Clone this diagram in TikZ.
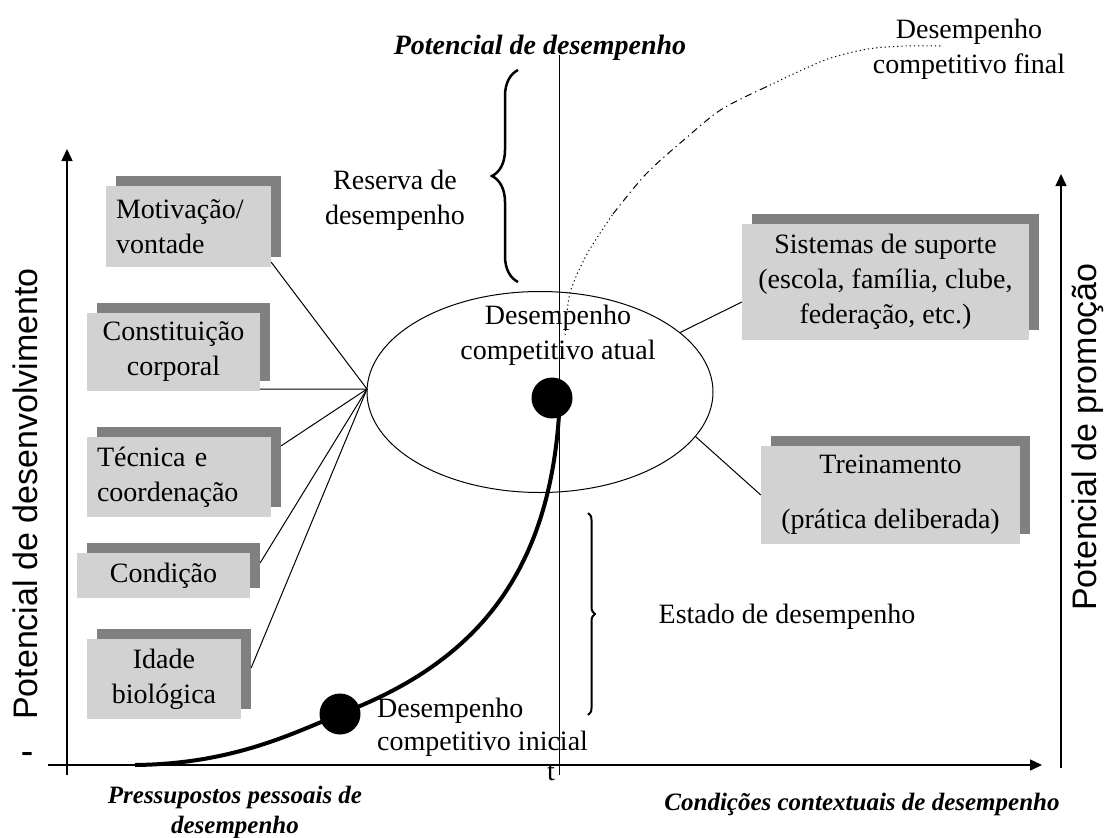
\documentclass[tikz,border=0pt]{standalone}
\usepackage{fontspec}
\setmainfont{Liberation Serif}
\newfontfamily\sansf{Liberation Sans}
\usetikzlibrary{shadows,calc,decorations.pathreplacing,arrows.meta,shapes.geometric}
\definecolor{boxfill}{RGB}{210,210,210}
\definecolor{shadowgray}{RGB}{128,128,128}
\begin{document}
\begin{tikzpicture}[x=1pt,y=-1pt,
  box/.style={fill=boxfill, draw=none, inner sep=0pt,
    general shadow={fill=shadowgray, shadow xshift=10pt, shadow yshift=10pt},
    font=\fontsize{28}{35}\selectfont},
  txt/.style={inner sep=0pt, font=\fontsize{28}{35}\selectfont},
  bi/.style={inner sep=0pt, font=\fontsize{28}{30}\selectfont\bfseries\itshape},
  bis/.style={inner sep=0pt, font=\fontsize{25}{30}\selectfont\bfseries\itshape},
  side/.style={inner sep=0pt, rotate=90, font=\fontsize{34}{36}\selectfont\sansf},
  conn/.style={line width=1pt},
  axis/.style={line width=1.5pt, -{Triangle[length=12pt,width=11pt]}},
  dot/.style={circle, fill=black, inner sep=0pt, minimum size=41pt},
  bracelinea/.style={decorate, decoration={brace, amplitude=26pt}, line width=2.5pt},
  braceline/.style={decorate, decoration={brace, amplitude=7pt}, line width=2pt},
  dotcurve/.style={line width=1pt, dash pattern=on 1.2pt off 3pt},
  dashdotcurve/.style={line width=1pt, dash pattern=on 7pt off 4pt on 1.2pt off 4pt}
]
\useasboundingbox (0,0) rectangle (1109,838);

% boxes
\node[box, minimum width=165, minimum height=81, text width=145, align=left] (mot) at (188.5,226.5) {Motivação/\\vontade};
\node[box, minimum width=173, minimum height=78, align=center] (con) at (173.5,352) {Constituição\\corporal};
\node[box, minimum width=184, minimum height=80, text width=164, align=left] (tec) at (179,477) {Técnica e\\coordenação};
\node[box, minimum width=173, minimum height=45] (cond) at (163.5,575.5) {Condição};
\node[box, minimum width=154, minimum height=80, align=center] (ida) at (164,679) {Idade\\biológica};
\node[box, minimum width=287, minimum height=116, align=center] (sis) at (885.5,282) {Sistemas de suporte\\(escola, família, clube,\\federação, etc.)};
\node[box, minimum width=259, minimum height=98, align=center] (tre) at (890.5,495) {Treinamento\\[20pt](prática deliberada)};

% ellipse
\node[draw, ellipse, minimum width=346, minimum height=201, inner sep=0pt, line width=1pt] (ell) at (540,392) {};

% axes
\coordinate (o) at (67,775);
\coordinate (ytop) at (67,149);
\coordinate (xs) at (48,765);
\coordinate (xe) at (1042,765);
\coordinate (rbot) at (1061,768);
\coordinate (rtop) at (1061,174);
\draw[axis] (o) -- (ytop);
\draw[axis] (xs) -- (xe);
\draw[axis] (rbot) -- (rtop);

% middle vertical line
\coordinate (vtop) at (559,55);
\coordinate (vbot) at (559,775);
\draw[line width=1pt] (vtop) -- (vbot);

% connectors to ellipse
\coordinate (conv) at (367,389);
\draw[conn] ([yshift=5pt]mot.south east) -- (conv);
\draw[conn] ([yshift=2pt]con.south east) -- (conv);
\draw[conn] ($(tec.north east)+(10,9)$) -- (conv);
\draw[conn] ($(cond.north east)+(10,10)$) -- (conv);
\draw[conn] ($(ida.north east)+(10,29)$) -- (conv);
\draw[conn] ($(sis.west)+(0,20)$) -- (ell.23);
\draw[conn] (ell.-16) -- (tre.west);

% dots and development curve
\node[dot] (d1) at (340,714) {};
\node[dot] (d2) at (552,398) {};
\coordinate (cstart) at (135,765);
\coordinate (cend) at (559,415);
\draw[line width=4pt] (cstart) .. controls (230,764) and (290,735) .. (d1.center) .. controls (470,665) and (548,580) .. (cend);

% final performance curve
\draw[dotcurve] plot[smooth] coordinates {(565,335) (570,293) (587,254) (613,214)};
\draw[dashdotcurve] plot[smooth] coordinates {(613,214) (646,174) (686,138) (722,109) (766,87)};
\draw[dotcurve] plot[smooth] coordinates {(766,87) (825,60) (868,49) (905,46) (943,46)};

% braces
\coordinate (b1a) at (518,282);
\coordinate (b1b) at (518,70);
\draw[bracelinea] (b1a) -- (b1b);
\coordinate (b2a) at (588,513);
\coordinate (b2b) at (588,715);
\draw[braceline] (b2a) -- (b2b);

% texts
\node[bi] (potd) at (540,48) {Potencial de desempenho};
\node[txt, align=center] (final) at (969,49) {Desempenho\\competitivo final};
\node[txt, align=center] (reserva) at (395,200) {Reserva de\\desempenho};
\node[txt, align=center] (atual) at (558,335) {Desempenho\\competitivo atual};
\node[txt] (estado) at (787,617) {Estado de desempenho};
\node[txt, align=left, anchor=west, font=\fontsize{28}{33}\selectfont] (inicial) at (377,727) {Desempenho\\competitivo inicial};
\node[bis, align=center] (press) at (235,812) {Pressupostos pessoais de\\desempenho};
\node[bis] (condc) at (862,804) {Condições contextuais de desempenho};
\node[side] (pdes) at (25,494) {Potencial de desenvolvimento};
\node[side] (ppro) at (1088,437) {Potencial de promoção};
\node[txt, font=\fontsize{36}{36}\selectfont\bfseries] (tick) at (27,757) {-};
\node[txt] (tlab) at (551,773) {t};
\end{tikzpicture}
\end{document}
